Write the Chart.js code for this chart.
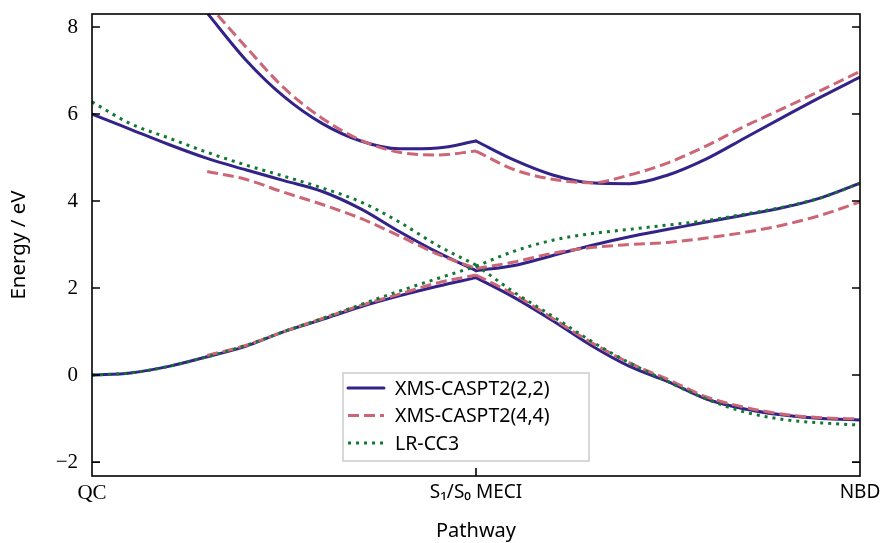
<!DOCTYPE html>
<html>
<head>
<meta charset="utf-8">
<script src="https://cdn.jsdelivr.net/npm/chart.js@4.4.1/dist/chart.umd.min.js"></script>
<style>
html, body { margin: 0; padding: 0; background: #fff; }
#wrap { width: 886px; height: 543px; }
</style>
</head>
<body>
<div id="wrap"><canvas id="pesChart" width="886" height="543"></canvas></div>
<script>
// Pathway coordinate: 0 = QC, 1 = S1/S0 MECI, 2 = NBD
const pathX = [0, 0.1, 0.2, 0.3, 0.4, 0.5, 0.6, 0.7, 0.8, 0.9, 1.0,
               1.1, 1.2, 1.3, 1.4, 1.5, 1.6, 1.7, 1.8, 1.9, 2.0];
const xTickValues = [0, 1, 2];
const xTickLabels = ['QC', 'S\u2081/S\u2080 MECI', 'NBD'];
const yTickValues = [-2, 0, 2, 4, 6, 8];

// XMS-CASPT2(2,2) energies (eV)
const cas22Lower = [0, 0.05, 0.2, 0.42, 0.66, 1.0, 1.28, 1.57, 1.82, 2.04, 2.24,
                    1.78, 1.25, 0.68, 0.2, -0.15, -0.55, -0.78, -0.92, -1.0, -1.03];
const cas22Middle = [6.0, 5.65, 5.3, 4.98, 4.72, 4.47, 4.22, 3.82, 3.3, 2.82, 2.4,
                     2.52, 2.75, 2.98, 3.18, 3.35, 3.52, 3.68, 3.85, 4.08, 4.41];
const cas22Upper = [null, null, null, 8.32, 7.25, 6.4, 5.78, 5.38, 5.2, 5.22, 5.38,
                    4.94, 4.6, 4.42, 4.4, 4.6, 4.97, 5.45, 5.93, 6.4, 6.85];

// XMS-CASPT2(4,4) energies (eV)
const cas44Lower = [null, null, null, 0.45, 0.68, 1.0, 1.3, 1.6, 1.86, 2.12, 2.3,
                    1.85, 1.3, 0.75, 0.28, -0.1, -0.5, -0.74, -0.9, -0.98, -1.01];
const cas44Middle = [null, null, null, 4.68, 4.5, 4.2, 3.92, 3.6, 3.2, 2.78, 2.45,
                     2.6, 2.8, 2.93, 3.0, 3.05, 3.15, 3.28, 3.45, 3.68, 3.98];
const cas44Upper = [null, null, null, 8.55, 7.55, 6.6, 5.9, 5.4, 5.12, 5.06, 5.15,
                    4.72, 4.5, 4.42, 4.6, 4.88, 5.27, 5.72, 6.13, 6.55, 6.98];

// LR-CC3 energies (eV)
const cc3Falling = [6.28, 5.78, 5.45, 5.12, 4.83, 4.57, 4.3, 3.98, 3.52, 2.98, 2.53,
                    1.9, 1.35, 0.78, 0.28, -0.15, -0.55, -0.85, -1.02, -1.1, -1.15];
const cc3Rising = [0, 0.05, 0.2, 0.42, 0.68, 1.0, 1.3, 1.62, 1.93, 2.22, 2.5,
                   2.85, 3.1, 3.25, 3.35, 3.45, 3.55, 3.7, 3.86, 4.08, 4.41];

const methods = [
    { label: 'XMS-CASPT2(2,2)', color: '#332288', dash: [], cap: 'round', order: 3,
      curves: [cas22Lower, cas22Middle, cas22Upper] },
    { label: 'XMS-CASPT2(4,4)', color: '#CC6677', dash: [11, 5], cap: 'butt', order: 2,
      curves: [cas44Lower, cas44Middle, cas44Upper] },
    { label: 'LR-CC3', color: '#117733', dash: [3, 5], cap: 'butt', order: 1,
      curves: [cc3Falling, cc3Rising] }
];

// split each curve at the MECI so the cusp stays sharp
function toPoints(values, from, to) {
    const pts = [];
    for (let i = from; i <= to; i++) {
        if (values[i] !== null) pts.push({ x: pathX[i], y: values[i] });
    }
    return pts;
}

const datasets = [];
methods.forEach(m => {
    m.curves.forEach((curve, ci) => {
        [[0, 10], [10, 20]].forEach((range, si) => {
            datasets.push({
                label: m.label,
                data: toPoints(curve, range[0], range[1]),
                borderColor: m.color,
                backgroundColor: m.color,
                borderWidth: 3,
                borderDash: m.dash,
                borderCapStyle: m.cap,
                pointRadius: 0,
                cubicInterpolationMode: 'monotone',
                order: m.order,
                clip: 0,
                showInLegend: ci === 0 && si === 0
            });
        });
    });
});

// frame + inward ticks
const framePlugin = {
    id: 'frame',
    afterDatasetsDraw(chart) {
        const { ctx, chartArea: a, scales } = chart;
        ctx.save();
        ctx.strokeStyle = '#000';
        ctx.lineWidth = 1.6;
        ctx.strokeRect(a.left, a.top, a.right - a.left, a.bottom - a.top);
        ctx.beginPath();
        yTickValues.forEach(v => {
            const py = scales.y.getPixelForValue(v);
            ctx.moveTo(a.left, py); ctx.lineTo(a.left + 8, py);
            ctx.moveTo(a.right, py); ctx.lineTo(a.right - 8, py);
        });
        const mx = scales.x.getPixelForValue(1);
        ctx.moveTo(mx, a.bottom); ctx.lineTo(mx, a.bottom - 8);
        ctx.stroke();
        ctx.restore();
    }
};

// matplotlib style legend box
const legendPlugin = {
    id: 'boxLegend',
    afterDraw(chart) {
        const ctx = chart.ctx;
        const items = chart.data.datasets.filter(d => d.showInLegend);
        const x0 = 343, y0 = 373, w = 246, h = 88;
        ctx.save();
        ctx.fillStyle = 'rgba(255,255,255,0.85)';
        ctx.fillRect(x0, y0, w, h);
        ctx.strokeStyle = '#cccccc';
        ctx.lineWidth = 1.5;
        ctx.strokeRect(x0, y0, w, h);
        items.forEach((d, i) => {
            const cy = y0 + 15 + i * 27.5;
            ctx.strokeStyle = d.borderColor;
            ctx.lineWidth = d.borderWidth;
            ctx.setLineDash(d.borderDash);
            ctx.lineCap = d.borderCapStyle;
            ctx.beginPath();
            ctx.moveTo(x0 + 5, cy);
            ctx.lineTo(x0 + 41, cy);
            ctx.stroke();
            ctx.setLineDash([]);
            ctx.fillStyle = '#000';
            ctx.font = '19.5px "Noto Sans"';
            ctx.textBaseline = 'middle';
            ctx.textAlign = 'left';
            ctx.fillText(d.label, x0 + 52, cy + 1);
        });
        ctx.restore();
    }
};

new Chart(document.getElementById('pesChart').getContext('2d'), {
    type: 'line',
    data: { datasets: datasets },
    options: {
        responsive: false,
        animation: false,
        events: [],
        layout: { padding: { left: 0, right: 26, top: 14, bottom: 0 } },
        plugins: {
            legend: { display: false },
            tooltip: { enabled: false }
        },
        scales: {
            x: {
                type: 'linear',
                min: 0,
                max: 2,
                grid: { display: false, drawTicks: false },
                border: { display: false },
                afterBuildTicks: s => { s.ticks = xTickValues.map(v => ({ value: v })); },
                afterFit: s => { s.height = 67; },
                ticks: {
                    color: '#000',
                    padding: 5,
                    maxRotation: 0,
                    autoSkip: false,
                    font: ctx => ctx.index === 0
                        ? { family: '"Liberation Serif"', size: 21 }
                        : { family: '"Noto Sans"', size: 19 },
                    callback: v => xTickLabels[xTickValues.indexOf(v)]
                },
                title: {
                    display: true,
                    text: 'Pathway',
                    color: '#000',
                    font: { family: '"Noto Sans"', size: 20 },
                    padding: { top: 2, bottom: 0 }
                }
            },
            y: {
                min: -2.32,
                max: 8.3,
                grid: { display: false, drawTicks: false },
                border: { display: false },
                afterBuildTicks: s => { s.ticks = yTickValues.map(v => ({ value: v })); },
                afterFit: s => { s.width = 92; s.paddingTop = 0; s.paddingBottom = 0; },
                ticks: {
                    color: '#000',
                    padding: 14,
                    font: { family: '"Liberation Serif"', size: 21 },
                    callback: v => v < 0 ? '\u2212' + Math.abs(v) : String(v)
                },
                title: {
                    display: true,
                    text: 'Energy / eV',
                    color: '#000',
                    font: { family: '"Noto Sans"', size: 20.5 },
                    padding: { top: 7, bottom: 4 }
                }
            }
        }
    },
    plugins: [framePlugin, legendPlugin]
});
</script>
</body>
</html>
